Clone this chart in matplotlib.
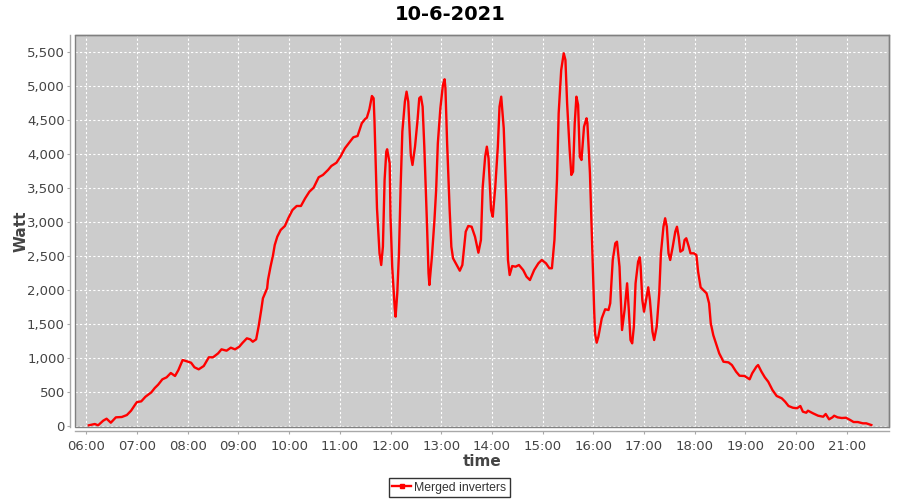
import matplotlib
matplotlib.use("Agg")
import matplotlib.pyplot as plt
from matplotlib.lines import Line2D
from matplotlib.patches import Rectangle
from matplotlib.ticker import FixedLocator, FuncFormatter

title = "10-6-2021"
series_name = "Merged inverters"
x_label = "time"
y_label = "Watt"

times = [
    "06:03", "06:10", "06:14", "06:20", "06:24", "06:29", "06:35", "06:42", "06:48", "06:53",
    "06:58", "07:00", "07:05", "07:10", "07:17", "07:21", "07:25", "07:30", "07:35", "07:40",
    "07:45", "07:49", "07:54", "07:59", "08:04", "08:08", "08:13", "08:19", "08:25", "08:30",
    "08:36", "08:40", "08:46", "08:51", "08:56", "09:01", "09:05", "09:10", "09:14", "09:17",
    "09:21", "09:24", "09:27", "09:29", "09:34", "09:35", "09:38", "09:41", "09:43", "09:46",
    "09:50", "09:55", "09:59", "10:04", "10:09", "10:14", "10:19", "10:24", "10:29", "10:35",
    "10:40", "10:46", "10:50", "10:56", "11:01", "11:06", "11:12", "11:16", "11:21", "11:26",
    "11:30", "11:32", "11:35", "11:38", "11:40", "11:41", "11:44", "11:47", "11:49", "11:51",
    "11:53", "11:55", "11:56", "11:59", "12:00", "12:02", "12:05", "12:06", "12:08", "12:10",
    "12:12", "12:14", "12:17", "12:19", "12:21", "12:24", "12:26", "12:29", "12:32", "12:34",
    "12:36", "12:38", "12:40", "12:43", "12:45", "12:46", "12:49", "12:52", "12:54", "12:56",
    "12:59", "13:02", "13:04", "13:05", "13:07", "13:10", "13:12", "13:14", "13:19", "13:22",
    "13:25", "13:29", "13:32", "13:36", "13:40", "13:44", "13:47", "13:49", "13:52", "13:54",
    "13:56", "13:59", "14:01", "14:04", "14:07", "14:09", "14:11", "14:14", "14:17", "14:19",
    "14:21", "14:24", "14:28", "14:32", "14:37", "14:41", "14:45", "14:50", "14:55", "14:59",
    "15:04", "15:08", "15:11", "15:14", "15:17", "15:19", "15:22", "15:25", "15:27", "15:29",
    "15:32", "15:34", "15:36", "15:38", "15:40", "15:42", "15:44", "15:46", "15:49", "15:52",
    "15:53", "15:56", "15:59", "16:01", "16:02", "16:04", "16:06", "16:10", "16:14", "16:18",
    "16:20", "16:23", "16:26", "16:28", "16:31", "16:34", "16:37", "16:40", "16:42", "16:44",
    "16:46", "16:48", "16:50", "16:53", "16:55", "16:56", "16:58", "17:00", "17:02", "17:05",
    "17:07", "17:10", "17:12", "17:15", "17:18", "17:20", "17:23", "17:25", "17:27", "17:29",
    "17:31", "17:34", "17:37", "17:39", "17:41", "17:43", "17:46", "17:48", "17:50", "17:53",
    "17:55", "17:59", "18:02", "18:04", "18:07", "18:10", "18:14", "18:17", "18:19", "18:22",
    "18:26", "18:29", "18:34", "18:40", "18:44", "18:49", "18:53", "18:59", "19:05", "19:08",
    "19:13", "19:15", "19:19", "19:23", "19:27", "19:32", "19:37", "19:43", "19:47", "19:51",
    "19:56", "20:01", "20:05", "20:08", "20:12", "20:14", "20:20", "20:26", "20:32", "20:35",
    "20:39", "20:43", "20:45", "20:49", "20:54", "20:59", "21:04", "21:08", "21:13", "21:19",
    "21:23", "21:29",
]

watts = [
    15, 34, 15, 83, 112, 53, 132, 137, 166, 230,
    323, 357, 367, 435, 500, 563, 612, 691, 720, 784,
    740, 828, 975, 956, 935, 868, 838, 887, 1015, 1015,
    1073, 1132, 1112, 1156, 1132, 1171, 1229, 1294, 1279, 1244,
    1279, 1475, 1710, 1882, 2029, 2151, 2347, 2519, 2666, 2788,
    2887, 2946, 3059, 3181, 3240, 3240, 3353, 3450, 3509, 3662,
    3696, 3769, 3828, 3876, 3970, 4088, 4185, 4250, 4269, 4456,
    4519, 4538, 4662, 4857, 4824, 4504, 3206, 2544, 2372, 2641,
    3622, 4038, 4074, 3868, 3082, 2347, 1735, 1612, 1956, 2544,
    3524, 4332, 4774, 4921, 4774, 3990, 3843, 4112, 4504, 4824,
    4847, 4700, 4112, 3034, 2250, 2078, 2494, 3034, 3475, 4162,
    4676, 5019, 5103, 4971, 4162, 3181, 2641, 2471, 2357, 2288,
    2372, 2862, 2946, 2935, 2788, 2553, 2740, 3500, 3965, 4112,
    3941, 3181, 3082, 3524, 4112, 4700, 4847, 4382, 3328, 2446,
    2225, 2357, 2347, 2372, 2298, 2200, 2151, 2298, 2397, 2446,
    2397, 2324, 2324, 2740, 3622, 4603, 5240, 5485, 5387, 4750,
    4063, 3696, 3744, 4456, 4847, 4725, 3965, 3916, 4406, 4529,
    4456, 3721, 2494, 1710, 1368, 1230, 1318, 1588, 1721, 1710,
    1809, 2446, 2691, 2715, 2347, 1416, 1710, 2103, 1710, 1269,
    1220, 1465, 2103, 2421, 2485, 2347, 1857, 1686, 1833, 2044,
    1857, 1392, 1269, 1465, 1956, 2544, 2935, 3059, 2935, 2544,
    2446, 2641, 2862, 2935, 2788, 2568, 2593, 2740, 2765, 2641,
    2544, 2544, 2519, 2274, 2044, 2005, 1956, 1809, 1515, 1340,
    1190, 1073, 950, 940, 901, 803, 744, 740, 691, 779,
    877, 901, 803, 720, 656, 534, 446, 412, 362, 299,
    274, 265, 299, 215, 200, 230, 191, 156, 141, 181,
    103, 132, 156, 132, 122, 126, 93, 63, 63, 44,
    44, 19,
]

x_ticks = ["06:00", "07:00", "08:00", "09:00", "10:00", "11:00", "12:00", "13:00",
           "14:00", "15:00", "16:00", "17:00", "18:00", "19:00", "20:00", "21:00"]
y_ticks = [0, 500, 1000, 1500, 2000, 2500, 3000, 3500, 4000, 4500, 5000, 5500]


def to_hours(s):
    h, m = s.split(":")
    return int(h) + int(m) / 60.0


xs = [to_hours(t) for t in times]
xt = [to_hours(t) for t in x_ticks]

fig = plt.figure(figsize=(9, 5), dpi=100)
fig.patch.set_facecolor("white")
ax = fig.add_axes([75.3 / 900, 73 / 500, (888.7 - 75.3) / 900, (427 - 35) / 500])
ax.set_facecolor("#CCCCCC")

ax.plot(xs, watts, color="#FF0000", linewidth=1.7, solid_joinstyle="round")

ax.set_xlim(5.783, 21.826)
ax.set_ylim(-10, 5754)

ax.xaxis.set_major_locator(FixedLocator(xt))
ax.xaxis.set_major_formatter(FuncFormatter(lambda v, p: "%02d:%02d" % (int(round(v * 60)) // 60, int(round(v * 60)) % 60)))
ax.yaxis.set_major_locator(FixedLocator(y_ticks))
ax.yaxis.set_major_formatter(FuncFormatter(lambda v, p: "{:,}".format(int(v))))

ax.grid(True, color="white", linestyle=(0, (2, 2)), linewidth=0.8)
ax.set_axisbelow(True)

# plot frame
for s in ["top", "right"]:
    ax.spines[s].set_color("#808080")
    ax.spines[s].set_linewidth(1.0)
ax.add_patch(Rectangle((0, 0), 1, 1, transform=ax.transAxes, fill=False,
                       edgecolor="#808080", linewidth=1.0, clip_on=False, zorder=5))
# offset axis lines
ax.spines["left"].set_position(("outward", 3.5))
ax.spines["bottom"].set_position(("outward", 3))
for s in ["left", "bottom"]:
    ax.spines[s].set_color("#A8A8A8")
    ax.spines[s].set_linewidth(1.0)

ax.tick_params(axis="both", colors="#A8A8A8", labelcolor="#444444", labelsize=9.5,
               length=2, width=0.8, direction="out")
ax.tick_params(axis="x", pad=4)
ax.tick_params(axis="y", pad=2)

ax.set_xlabel(x_label, fontsize=11, fontweight="bold", color="#444444", labelpad=1)
ax.set_ylabel(y_label, fontsize=11, fontweight="bold", color="#444444", labelpad=-1)

fig.suptitle(title, x=0.5, y=1 - 14 / 500, va="center", fontsize=14, fontweight="bold", color="black")

handle = Line2D([], [], color="#FF0000", lw=1.7, marker="s", markersize=2.2)
leg = fig.legend([handle], [series_name], loc="center", bbox_to_anchor=(449.5 / 900, 1 - 487.5 / 500),
                 frameon=True, fancybox=False, edgecolor="black",
                 prop={"family": "Liberation Sans", "size": 8.8},
                 handlelength=1.5, handletextpad=0.3, borderpad=0.3, borderaxespad=0)
leg.get_frame().set_linewidth(1.0)
for t in leg.get_texts():
    t.set_color("#333333")

fig.savefig("out.png", dpi=100)
